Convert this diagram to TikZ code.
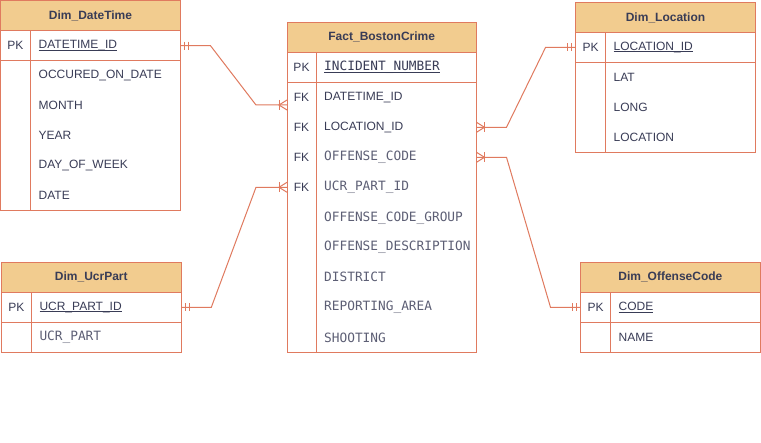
\documentclass[tikz,border=0pt]{standalone}
\usepackage{fontspec}
\setmainfont{Liberation Sans}
\newfontfamily\monof{DejaVu Sans Mono}
\usetikzlibrary{calc}
\definecolor{edge}{HTML}{E07A5F}
\definecolor{hfill}{HTML}{F2CC8F}
\definecolor{txt}{HTML}{393C56}
\colorlet{mtxt}{txt!82!white}
\newcommand\ulx[1]{\setbox0\hbox{#1}\rlap{\rule[-1.9pt]{\wd0}{0.9pt}}\box0}
\tikzset{
  tbox/.style={draw=edge, line width=1pt, anchor=north west, inner sep=0pt, outer sep=0pt},
  hdr/.style={tbox, fill=hfill, text=txt, font=\fontsize{12}{14}\selectfont\bfseries},
  fld/.style={anchor=west, inner sep=0pt, text=txt, font=\fontsize{12}{14}\selectfont},
  mfld/.style={anchor=west, inner sep=0pt, text=mtxt, font=\fontsize{12.8}{14}\selectfont\monof},
  keylab/.style={anchor=center, inner sep=0pt, text=txt, font=\fontsize{12}{14}\selectfont},
  eline/.style={draw=edge, line width=1pt},
}
\begin{document}
\begin{tikzpicture}[x=1pt,y=-1pt]
\useasboundingbox (0,0) rectangle (761,443);
\fill[white] (0,0) rectangle (761,443);

% ---------- Dim_DateTime ----------
\node[hdr, minimum width=180pt, minimum height=30pt] (dtH) at (0.5,0.7) {Dim\_DateTime};
\node[tbox, minimum width=180pt, minimum height=30pt] (dtP) at (dtH.south west) {};
\node[tbox, minimum width=180pt, minimum height=150pt] (dtB) at (dtP.south west) {};
\draw[eline] ($(dtP.north west)+(30,0)$) -- ($(dtB.south west)+(30,0)$);
\node[keylab] (dtPK) at ($(dtP.west)+(15,0)$) {PK};
\node[fld] (dtPf) at ($(dtP.west)+(38,0)$) {\ulx{DATETIME\_ID}};
\node[fld] (dt1) at ($(dtB.north west)+(38,15)$) {OCCURED\_ON\_DATE};
\node[fld] (dt2) at ($(dtB.north west)+(38,45)$) {MONTH};
\node[fld] (dt3) at ($(dtB.north west)+(38,75)$) {YEAR};
\node[fld] (dt4) at ($(dtB.north west)+(38,105)$) {DAY\_OF\_WEEK};
\node[fld] (dt5) at ($(dtB.north west)+(38,135)$) {DATE};

% ---------- Dim_UcrPart ----------
\node[hdr, minimum width=180pt, minimum height=30pt] (ucH) at (1.3,262.3) {Dim\_UcrPart};
\node[tbox, minimum width=180pt, minimum height=30pt] (ucP) at (ucH.south west) {};
\node[tbox, minimum width=180pt, minimum height=30pt] (ucB) at (ucP.south west) {};
\draw[eline] ($(ucP.north west)+(30,0)$) -- ($(ucB.south west)+(30,0)$);
\node[keylab] (ucPK) at ($(ucP.west)+(15,0)$) {PK};
\node[fld] (ucPf) at ($(ucP.west)+(38,0)$) {\ulx{UCR\_PART\_ID}};
\node[mfld] (uc1) at ($(ucB.north west)+(38,15)$) {UCR\_PART};

% ---------- Fact_BostonCrime ----------
\node[hdr, minimum width=189.5pt, minimum height=30pt] (fH) at (287,22.3) {Fact\_BostonCrime};
\node[tbox, minimum width=189.5pt, minimum height=30pt] (fP) at (fH.south west) {};
\node[tbox, minimum width=189.5pt, minimum height=270pt] (fB) at (fP.south west) {};
\draw[eline] ($(fP.north west)+(29,0)$) -- ($(fB.south west)+(29,0)$);
\node[keylab] (fPK) at ($(fP.west)+(14.5,0)$) {PK};
\node[mfld, text=txt] (fPf) at ($(fP.west)+(37,0)$) {\ulx{INCIDENT\_NUMBER}};
\node[keylab] (fk1) at ($(fB.north west)+(14.5,15)$) {FK};
\node[keylab] (fk2) at ($(fB.north west)+(14.5,45)$) {FK};
\node[keylab] (fk3) at ($(fB.north west)+(14.5,75)$) {FK};
\node[keylab] (fk4) at ($(fB.north west)+(14.5,105)$) {FK};
\node[fld]  (f1) at ($(fB.north west)+(37,15)$) {DATETIME\_ID};
\node[fld]  (f2) at ($(fB.north west)+(37,45)$) {LOCATION\_ID};
\node[mfld] (f3) at ($(fB.north west)+(37,75)$) {OFFENSE\_CODE};
\node[mfld] (f4) at ($(fB.north west)+(37,105)$) {UCR\_PART\_ID};
\node[mfld] (f5) at ($(fB.north west)+(37,135.5)$) {OFFENSE\_CODE\_GROUP};
\node[mfld] (f6) at ($(fB.north west)+(37,165)$) {OFFENSE\_DESCRIPTION};
\node[mfld] (f7) at ($(fB.north west)+(37,195)$) {DISTRICT};
\node[mfld] (f8) at ($(fB.north west)+(37,225)$) {REPORTING\_AREA};
\node[mfld] (f9) at ($(fB.north west)+(37,255.5)$) {SHOOTING};

% ---------- Dim_Location ----------
\node[hdr, minimum width=180pt, minimum height=30pt] (loH) at (575.5,2.5) {Dim\_Location};
\node[tbox, minimum width=180pt, minimum height=30pt] (loP) at (loH.south west) {};
\node[tbox, minimum width=180pt, minimum height=90pt] (loB) at (loP.south west) {};
\draw[eline] ($(loP.north west)+(30,0)$) -- ($(loB.south west)+(30,0)$);
\node[keylab] (loPK) at ($(loP.west)+(15,0)$) {PK};
\node[fld] (loPf) at ($(loP.west)+(38,0)$) {\ulx{LOCATION\_ID}};
\node[fld] (lo1) at ($(loB.north west)+(38,15)$) {LAT};
\node[fld] (lo2) at ($(loB.north west)+(38,45)$) {LONG};
\node[fld] (lo3) at ($(loB.north west)+(38,75)$) {LOCATION};

% ---------- Dim_OffenseCode ----------
\node[hdr, minimum width=179.8pt, minimum height=30pt] (ocH) at (580.5,262.3) {Dim\_OffenseCode};
\node[tbox, minimum width=179.8pt, minimum height=30pt] (ocP) at (ocH.south west) {};
\node[tbox, minimum width=179.8pt, minimum height=30pt] (ocB) at (ocP.south west) {};
\draw[eline] ($(ocP.north west)+(30,0)$) -- ($(ocB.south west)+(30,0)$);
\node[keylab] (ocPK) at ($(ocP.west)+(15,0)$) {PK};
\node[fld] (ocPf) at ($(ocP.west)+(38,0)$) {\ulx{CODE}};
\node[fld] (oc1) at ($(ocB.north west)+(38,15)$) {NAME};

% ---------- connector end points on the fact table ----------
\coordinate (eDT) at (fB.west |- 0,105);
\coordinate (eUC) at (fB.west |- f4.west);
\coordinate (eLO) at (fB.east |- f2.west);
\coordinate (eOC) at (fB.east |- f3.west);

% ---------- connectors ----------
\draw[eline] (dtP.east) -- ++(30,0) -- ($(eDT)+(-31,0)$) -- (eDT);
\draw[eline] (ucP.east) -- ++(30,0) -- ($(eUC)+(-31,0)$) -- (eUC);
\draw[eline] (eLO) -- ++(30,0) -- ($(loP.west)+(-30,0)$) -- (loP.west);
\draw[eline] (eOC) -- ++(30,0) -- ($(ocP.west)+(-30,0)$) -- (ocP.west);

% mandatory-one bars at the dimension side
\foreach \n/\s in {dtP.east/1, ucP.east/1, loP.west/-1, ocP.west/-1}{
  \draw[eline] ($(\n)+(\s*4,-4)$) -- ++(0,8);
  \draw[eline] ($(\n)+(\s*8,-4)$) -- ++(0,8);
}
% one-to-many crow's feet at the fact side
\foreach \n/\s in {eDT/-1, eUC/-1, eLO/1, eOC/1}{
  \draw[eline] ($(\n)+(\s*8,-5)$) -- ++(0,10);
  \draw[eline] ($(\n)+(0,-5)$) -- ($(\n)+(\s*8,0)$) -- ($(\n)+(0,5)$);
}
\end{tikzpicture}
\end{document}
